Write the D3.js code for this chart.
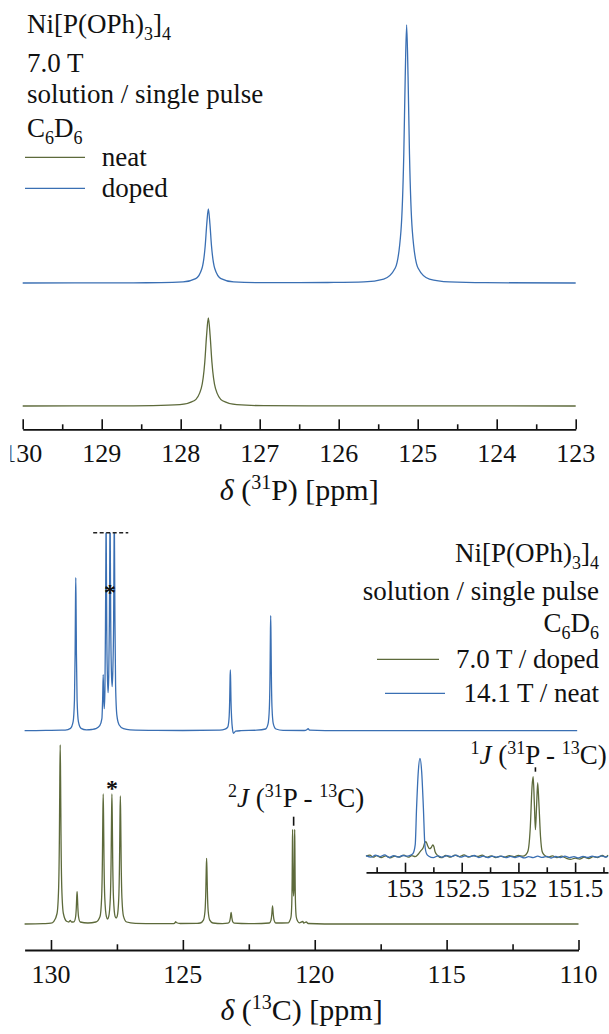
<!DOCTYPE html>
<html><head><meta charset="utf-8">
<script src="https://cdn.jsdelivr.net/npm/d3@7"></script>
</head><body style="margin:0">
<script>
// ---------------- data ----------------
const pTicks = [130,129,128,127,126,125,124,123];
const pMinorTicks = [129.5,128.5,127.5,126.5,125.5,124.5,123.5];
const cTicks = [130,125,120,115,110];
const cMinorTicks = [127.5,122.5,117.5,112.5];
const insetTicks = [153,152.5,152,151.5];
const insetMinorTicks = [153.25,152.75,152.25,151.75,151.25];

const pSeriesNames = ["neat","doped"];
const cSeriesNames = ["7.0 T / doped","14.1 T / neat"];

// 31P, 7.0 T  [ppm, intensity]
const p31Doped = [[130.0,0],[128.6,0.2],[128.25,0.3],[127.97,1.1],[127.81,4.4],[127.73,14.8],[127.69,37],[127.67,59],[127.65,74],[127.63,59],[127.61,37],[127.57,14.8],[127.49,4.4],[127.33,1.1],[127.05,0.4],[126.5,0.3],[126.14,0.5],[125.68,1.1],[125.43,3.9],[125.284,15],[125.212,52],[125.176,129],[125.158,206],[125.14,258],[125.122,206],[125.104,129],[125.068,52],[124.996,15],[124.852,3.9],[124.6,1.1],[124.14,0.3],[123.0,0]];
const p31Neat = [[130,0],[128.6,0.2],[128.35,0.36],[128.01,1.35],[127.83,5.2],[127.74,17.6],[127.695,44],[127.6725,70.4],[127.65,88],[127.6275,70.4],[127.605,44],[127.56,17.6],[127.47,5.2],[127.29,1.35],[126.95,0.36],[126.0,0.1],[123,0]];

// 13C, 14.1 T / neat
const c13Neat141 = [[131.0,0],[130.2,0.3],[129.6,0.5],[129.46,0.6],[129.26,2.3],[129.16,9],[129.11,30.6],[129.085,76.5],[129.0725,122],[129.06,153],[129.0475,122],[129.035,76.5],[129.01,30.6],[128.96,9],[128.86,2.3],[128.66,0.8],[128.45,1.2],[128.3,2],[128.15,5],[128.07,12],[128.04,33],[128.02,56],[128.0,33],[127.98,22],[127.955,40],[127.935,100],[127.92,170],[127.91,215],[127.90,170],[127.885,100],[127.86,55],[127.835,38],[127.81,55],[127.785,110],[127.77,180],[127.76,220],[127.75,180],[127.735,110],[127.71,60],[127.68,44],[127.655,60],[127.625,110],[127.61,180],[127.60,215],[127.59,180],[127.575,110],[127.55,45],[127.5,15],[127.42,6],[127.25,2],[127.0,0.8],[126.0,0.3],[125.0,0.2],[123.6,0.5],[123.4,1.5],[123.3,3.6],[123.25,12],[123.225,30],[123.2125,48.6],[123.2,60.7],[123.1875,48.6],[123.175,30],[123.15,12],[123.12,2],[123.08,-2.6],[123.0,-0.5],[122.8,0],[122.2,0.5],[121.87,1.7],[121.77,6.9],[121.72,23],[121.695,57.5],[121.6825,92],[121.67,115],[121.6575,92],[121.645,57.5],[121.62,23],[121.57,6.9],[121.47,1.7],[121.2,0.4],[120.4,0.2],[120.3,1],[120.25,2],[120.2,0.5],[119.0,0],[110.05,0]];
const c13Truncate = 198;

// 13C, 7.0 T / doped
const c13Doped70 = [[131.0,0],[130.3,0.4],[130.0,0.8],[129.89,2.7],[129.77,10.5],[129.71,35.8],[129.68,89.5],[129.665,143],[129.65,179],[129.635,143],[129.62,89.5],[129.59,35.8],[129.53,10.5],[129.41,2.7],[129.32,2],[129.27,3.5],[129.22,2],[129.13,2.2],[129.07,6.5],[129.04,16],[129.025,25.8],[129.01,32.3],[128.995,25.8],[128.98,16],[128.95,6.5],[128.89,2],[128.6,1],[128.3,2],[128.14,7.6],[128.08,26],[128.05,65],[128.035,104],[128.02,130],[128.005,104],[127.99,65],[127.96,26],[127.9,7.6],[127.855,5],[127.81,7.6],[127.75,26],[127.72,65],[127.705,104],[127.69,130],[127.675,104],[127.66,65],[127.63,26],[127.57,7.6],[127.53,6],[127.49,7.6],[127.43,26],[127.40,65],[127.385,103],[127.37,128],[127.355,103],[127.34,65],[127.31,26],[127.25,7.6],[127.13,2],[126.8,0.7],[126.0,0.3],[125.35,0.3],[125.29,1.5],[125.27,2.3],[125.25,1.5],[125.1,0.5],[124.46,0.6],[124.34,1],[124.22,3.9],[124.16,13],[124.13,33],[124.115,52.6],[124.1,65.7],[124.085,52.6],[124.07,33],[124.04,13],[123.98,3.9],[123.86,1],[123.5,0.4],[123.29,0.8],[123.23,2.3],[123.2,5.9],[123.17,11.7],[123.14,5.9],[123.11,2.3],[123.05,0.8],[122.5,0.3],[121.72,1],[121.66,3.6],[121.63,9],[121.6,18],[121.57,9],[121.54,3.6],[121.48,1],[121.0,1.2],[120.96,2.5],[120.9,7],[120.87,21],[120.855,48],[120.8475,76],[120.84,94.7],[120.8325,76],[120.82,40],[120.80,28],[120.78,40],[120.7675,76],[120.76,94.7],[120.7525,76],[120.745,48],[120.73,21],[120.70,7],[120.64,2.5],[120.58,1.2],[120.45,2.5],[120.42,1],[120.32,2],[120.25,0.5],[119.0,0],[110.0,0]];

// inset (13C, 151.2 - 153.3 ppm)
const insetNeat141 = [[153.344,1],[153.3,-0.5],[153.26,1.5],[153.22,0],[153.18,1.8],[153.14,-0.8],[153.1,1],[153.06,-0.5],[153.02,1.2],[152.98,0.5],[152.95,1.5],[152.93,3],[152.91,12],[152.898,49],[152.883,85],[152.868,98.4],[152.853,85],[152.838,49],[152.825,12],[152.81,3],[152.79,0.5],[152.75,-1],[152.71,0.8],[152.67,-0.5],[152.63,1],[152.59,0],[152.55,1.5],[152.51,-0.5],[152.47,0.8],[152.43,0],[152.39,1.2],[152.35,-0.8],[152.31,0.5],[152.27,-1],[152.23,0.6],[152.19,-0.5],[152.15,0.5],[152.11,-1],[152.07,0.3],[152.03,-0.8],[151.99,0.4],[151.95,-1.2],[151.91,0],[151.87,-1],[151.83,0.5],[151.79,-0.7],[151.75,0.3],[151.71,-1.3],[151.67,0.2],[151.63,-0.8],[151.59,0.5],[151.55,-1],[151.51,0],[151.47,-1.2],[151.43,0.3],[151.39,-0.8],[151.35,0.5],[151.31,-0.5],[151.27,0.8],[151.23,-0.3],[151.21,0.5]];
const insetDoped70 = [[153.344,0.5],[153.31,1.5],[153.28,-0.5],[153.25,1],[153.21,-1],[153.17,0.8],[153.13,-1.2],[153.09,0.5],[153.05,-0.3],[153.01,1.5],[152.97,-0.5],[152.94,1],[152.91,0],[152.88,3],[152.86,6],[152.84,9],[152.825,14],[152.815,15],[152.80,11],[152.785,8],[152.77,9],[152.755,11.7],[152.745,10],[152.735,5],[152.71,1],[152.68,-1],[152.64,1.2],[152.6,-0.5],[152.56,1.5],[152.52,0],[152.48,1.8],[152.44,-0.5],[152.4,1],[152.36,0.3],[152.32,1.5],[152.28,-0.5],[152.24,0.8],[152.2,-1],[152.16,0.5],[152.12,-0.5],[152.08,1],[152.04,0],[152.0,1.2],[151.96,0.5],[151.935,2],[151.915,6],[151.895,30],[151.88,70],[151.87,80],[151.86,55],[151.85,27],[151.84,50],[151.83,74],[151.82,55],[151.805,20],[151.79,5],[151.77,1.5],[151.74,-0.5],[151.7,0.8],[151.66,-1],[151.62,0.5],[151.58,-1.5],[151.54,-2.6],[151.5,-1.5],[151.46,-2.4],[151.42,-0.5],[151.38,-1.8],[151.34,0],[151.3,-0.8],[151.26,1.2],[151.23,-0.5],[151.21,1.5]];

// annotation positions (ppm)
const starNeatPpm = 127.76, starDopedPpm = 127.69;
const j2Ppm = 120.8, j1Ppm = 151.85;
const truncRange = [128.4, 127.07];

// ---------------- drawing ----------------
const W = 609, H = 1034;
const FACE = "'Liberation Serif', Tinos, 'Times New Roman', Times, FreeSerif, 'DejaVu Serif', 'Noto Serif', serif";
const BLUE = "#3a6fb3", OLIVE = "#5d6a3b";

const svg = d3.select("body").append("svg").attr("width", W).attr("height", H)
  .style("display", "block");

function txt(g, x, y, size) {
  return g.append("text").style("font-family", FACE).attr("font-size", size)
    .attr("x", x).attr("y", y).attr("fill", "#111");
}

function rich(g, x, y, parts, o = {}) {
  const size = o.size || 27, sub = o.subSize || 18;
  const t = txt(g, x, y, size).attr("text-anchor", o.anchor || "start");
  let cur = 0;
  parts.forEach(p => {
    const target = p.sub ? (o.subDy || 7) : p.sup ? (o.supDy || -10) : 0;
    const ts = t.append("tspan").attr("dy", target - cur).text(p.t);
    cur = target;
    if (p.sub || p.sup) ts.attr("font-size", sub);
    if (p.it) ts.style("font-style", "italic");
  });
  return t;
}

function axis(scale, y, major, minor, opts) {
  const g = svg.append("g").attr("transform", `translate(0,${y})`);
  g.call(d3.axisBottom(scale).tickValues(major).tickSizeInner(-opts.major).tickSizeOuter(0).tickFormat(""));
  g.attr("font-family", null);
  g.selectAll(".tick text").remove();
  g.select(".domain").attr("stroke", "#111").attr("stroke-width", 1.8);
  g.selectAll(".tick line").attr("stroke", "#111").attr("stroke-width", 1.6);
  const gm = svg.append("g").attr("transform", `translate(0,${y})`);
  gm.call(d3.axisBottom(scale).tickValues(minor).tickSizeInner(-opts.minor).tickSizeOuter(0).tickFormat(""));
  gm.attr("font-family", null);
  gm.select(".domain").remove();
  gm.selectAll(".tick text").remove();
  gm.selectAll(".tick line").attr("stroke", "#111").attr("stroke-width", 1.6);
  const gl = svg.append("g");
  major.forEach(v => {
    txt(gl, scale(v), y + opts.labelDy, opts.size).attr("text-anchor", "middle").text(String(v));
  });
  return gl;
}

function trace(data, x, y, color, clip) {
  const line = d3.line().x(d => x(d[0])).y(d => y(d[1])).curve(d3.curveMonotoneX);
  const p = svg.append("path").datum(data).attr("d", line).attr("fill", "none")
    .attr("stroke", color).attr("stroke-width", 1.3).attr("stroke-linejoin", "round");
  if (clip) p.attr("clip-path", clip);
  return p;
}

// ----- top panel (31P) -----
const xP = d3.scaleLinear().domain([130, 123]).range([22.7, 575.7]);
const yPDoped = d3.scaleLinear().domain([0, 258]).range([283, 25]);
const yPNeat = d3.scaleLinear().domain([0, 258]).range([406, 148]);
trace(p31Doped, xP, yPDoped, BLUE);
trace(p31Neat, xP, yPNeat, OLIVE);

const defs = svg.append("defs");
defs.append("clipPath").attr("id", "leftcrop").append("rect").attr("x", 10.5).attr("y", 0).attr("width", 700).attr("height", 1034);
const topLabels = axis(xP, 429.3, pTicks, pMinorTicks, {major: 10, minor: 5, labelDy: 33, size: 26});
topLabels.attr("clip-path", "url(#leftcrop)");

rich(svg, xP(126.5), 500, [{t: "δ", it: true}, {t: " ("}, {t: "31", sup: true}, {t: "P) [ppm]"}], {size: 30, anchor: "middle", subSize: 20, supDy: -11});

// top legend
const tl = svg.append("g");
rich(tl, 27, 33, [{t: "Ni[P(OPh)"}, {t: "3", sub: true}, {t: "]"}, {t: "4", sub: true}]);
rich(tl, 27, 71.7, [{t: "7.0 T"}]);
rich(tl, 27, 103.3, [{t: "solution / single pulse"}]);
rich(tl, 27, 136.7, [{t: "C"}, {t: "6", sub: true}, {t: "D"}, {t: "6", sub: true}]);
const pLegendColors = [OLIVE, BLUE];
const pLegendY = [157.3, 188.3];
pSeriesNames.forEach((n, i) => {
  tl.append("line").attr("x1", 25).attr("x2", 85).attr("y1", pLegendY[i]).attr("y2", pLegendY[i])
    .attr("stroke", pLegendColors[i]).attr("stroke-width", 1.3);
  rich(tl, 101.7, pLegendY[i] + 8.5, [{t: n}]);
});

// ----- bottom panel (13C) -----
const xC = d3.scaleLinear().domain([131, 110]).range([24.6, 578.5]);
const yCNeat = d3.scaleLinear().domain([0, 100]).range([730.7, 630.7]);
const yCDoped = d3.scaleLinear().domain([0, 100]).range([924, 824]);
defs.append("clipPath").attr("id", "trunc").append("rect").attr("x", 0).attr("y", yCNeat(c13Truncate))
  .attr("width", W).attr("height", H);
trace(c13Neat141, xC, yCNeat, BLUE, "url(#trunc)");
trace(c13Doped70, xC, yCDoped, OLIVE);
svg.append("line").attr("x1", xC(truncRange[0])).attr("x2", xC(truncRange[1]))
  .attr("y1", yCNeat(c13Truncate)).attr("y2", yCNeat(c13Truncate))
  .attr("stroke", "#222").attr("stroke-width", 1.6).attr("stroke-dasharray", "4,2.5");

txt(svg, xC(starNeatPpm), 600, 24).attr("text-anchor", "middle").attr("font-weight", "bold").text("*");
txt(svg, xC(starDopedPpm), 796, 24).attr("text-anchor", "middle").attr("font-weight", "bold").text("*");

axis(xC, 950, cTicks, cMinorTicks, {major: 10, minor: 5.7, labelDy: 33, size: 26});
rich(svg, xC(120.5), 1020, [{t: "δ", it: true}, {t: " ("}, {t: "13", sup: true}, {t: "C) [ppm]"}], {size: 30, anchor: "middle", subSize: 20, supDy: -11});

// 2J label
rich(svg, 228, 806.7, [{t: "2", sup: true}, {t: "J", it: true}, {t: " ("}, {t: "31", sup: true}, {t: "P - "}, {t: "13", sup: true}, {t: "C)"}]);
svg.append("line").attr("x1", xC(j2Ppm)).attr("x2", xC(j2Ppm)).attr("y1", 816.7).attr("y2", 825.7)
  .attr("stroke", "#111").attr("stroke-width", 1.6);

// bottom legend
const bl = svg.append("g");
rich(bl, 599, 561.7, [{t: "Ni[P(OPh)"}, {t: "3", sub: true}, {t: "]"}, {t: "4", sub: true}], {anchor: "end"});
rich(bl, 599, 600, [{t: "solution / single pulse"}], {anchor: "end"});
rich(bl, 599, 631.7, [{t: "C"}, {t: "6", sub: true}, {t: "D"}, {t: "6", sub: true}], {anchor: "end"});
const cLegendColors = [OLIVE, BLUE];
const cLegendY = [659.3, 693.3];
const cLegendX = [[377, 439], [385, 445]];
cSeriesNames.forEach((n, i) => {
  bl.append("line").attr("x1", cLegendX[i][0]).attr("x2", cLegendX[i][1]).attr("y1", cLegendY[i]).attr("y2", cLegendY[i])
    .attr("stroke", cLegendColors[i]).attr("stroke-width", 1.3);
  rich(bl, 599, cLegendY[i] + 9, [{t: n}], {anchor: "end"});
});

// ----- inset -----
const xI = d3.scaleLinear().domain([153.344, 151.21]).range([366, 608]);
const yI = d3.scaleLinear().domain([0, 100]).range([856.7, 756.7]);
trace(insetDoped70, xI, yI, OLIVE);
trace(insetNeat141, xI, yI, BLUE);
axis(xI, 872.3, insetTicks, insetMinorTicks, {major: 9.6, minor: 5, labelDy: 24.4, size: 25});
rich(svg, 606.7, 764.3, [{t: "1", sup: true}, {t: "J", it: true}, {t: " ("}, {t: "31", sup: true}, {t: "P - "}, {t: "13", sup: true}, {t: "C)"}], {anchor: "end"});
svg.append("line").attr("x1", xI(j1Ppm)).attr("x2", xI(j1Ppm)).attr("y1", 767.3).attr("y2", 771.7)
  .attr("stroke", "#111").attr("stroke-width", 1.6);
</script>
</body></html>
